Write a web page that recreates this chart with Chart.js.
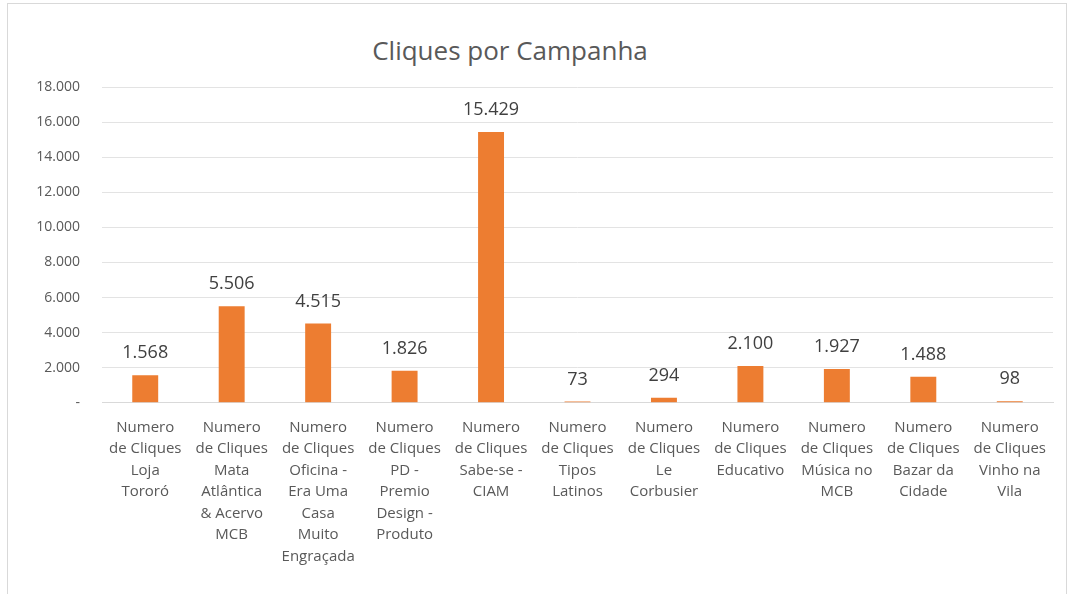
<!DOCTYPE html>
<html>
<head>
<meta charset="utf-8">
<script src="https://cdn.jsdelivr.net/npm/chart.js@4/dist/chart.umd.min.js"></script>
<style>
  html, body { margin: 0; padding: 0; background: #fff; }
  .frame {
    position: absolute; left: 7px; top: 3px; width: 1060px; height: 600px;
    border: 1px solid #d9d9d9; box-sizing: border-box;
  }
  .title {
    position: absolute; left: 0; top: 33px; width: 1020px; text-align: center;
    font: 26px 'Open Sans', sans-serif; color: #595959; line-height: 34px;
  }
  .wrap { position: absolute; left: 0; top: 0; width: 1074px; height: 594px; }
</style>
</head>
<body>
<div class="frame"></div>
<div class="title">Cliques por Campanha</div>
<div class="wrap"><canvas id="chart"></canvas></div>
<script>
// Category labels (each line as its own entry)
const campaigns = [
    ["Numero", "de Cliques", "Loja", "Tororó"],
    ["Numero", "de Cliques", "Mata", "Atlântica", "& Acervo", "MCB"],
    ["Numero", "de Cliques", "Oficina -", "Era Uma", "Casa", "Muito", "Engraçada"],
    ["Numero", "de Cliques", "PD -", "Premio", "Design -", "Produto"],
    ["Numero", "de Cliques", "Sabe-se -", "CIAM"],
    ["Numero", "de Cliques", "Tipos", "Latinos"],
    ["Numero", "de Cliques", "Le", "Corbusier"],
    ["Numero", "de Cliques", "Educativo"],
    ["Numero", "de Cliques", "Música no", "MCB"],
    ["Numero", "de Cliques", "Bazar da", "Cidade"],
    ["Numero", "de Cliques", "Vinho na", "Vila"]
]

const clicks = [1568, 5506, 4515, 1826, 15429, 73, 294, 2100, 1927, 1488, 98]

const yMax = 18000
const yStep = 2000

// Format numbers as pt-BR (1.568)
function fmt(v) {
    return String(Math.round(v)).replace(/\B(?=(\d{3})+(?!\d))/g, ".")
}

// Draw the value above each bar
const valueLabels = {
    id: "valueLabels",
    afterDatasetsDraw(chart) {
        const ctx = chart.ctx
        const meta = chart.getDatasetMeta(0)
        ctx.save()
        ctx.font = "18px 'Open Sans', sans-serif"
        ctx.fillStyle = "#404040"
        ctx.textAlign = "center"
        ctx.textBaseline = "alphabetic"
        meta.data.forEach((bar, i) => {
            ctx.fillText(fmt(clicks[i]), bar.x, bar.y - 17)
        })
        ctx.restore()
    }
}

const ctx = document.getElementById("chart").getContext("2d")

new Chart(ctx, {
    type: "bar",
    data: {
        labels: campaigns,
        datasets: [{
            data: clicks,
            backgroundColor: "#ED7D31",
            barPercentage: 0.3,
            categoryPercentage: 1.0
        }]
    },
    options: {
        responsive: true,
        maintainAspectRatio: false,
        animation: false,
        layout: { padding: { left: 0, right: 21, top: 87, bottom: 13 } },
        plugins: {
            legend: { display: false },
            tooltip: { enabled: false }
        },
        scales: {
            x: {
                grid: { display: false, drawTicks: false },
                border: { display: true, color: "#d9d9d9" },
                ticks: {
                    color: "#595959",
                    font: { size: 15, family: "'Open Sans', sans-serif", lineHeight: 1.43 },
                    maxRotation: 0,
                    autoSkip: false,
                    padding: 14
                }
            },
            y: {
                min: 0,
                max: yMax,
                afterFit(scale) { scale.width = 102 },
                grid: { color: "#e3e3e3", drawTicks: false },
                border: { display: false },
                ticks: {
                    stepSize: yStep,
                    color: "#595959",
                    padding: 22,
                    font: { size: 14, family: "'Open Sans', sans-serif" },
                    callback: (v) => v === 0 ? "-" : fmt(v)
                }
            }
        }
    },
    plugins: [valueLabels]
})
</script>
</body>
</html>
